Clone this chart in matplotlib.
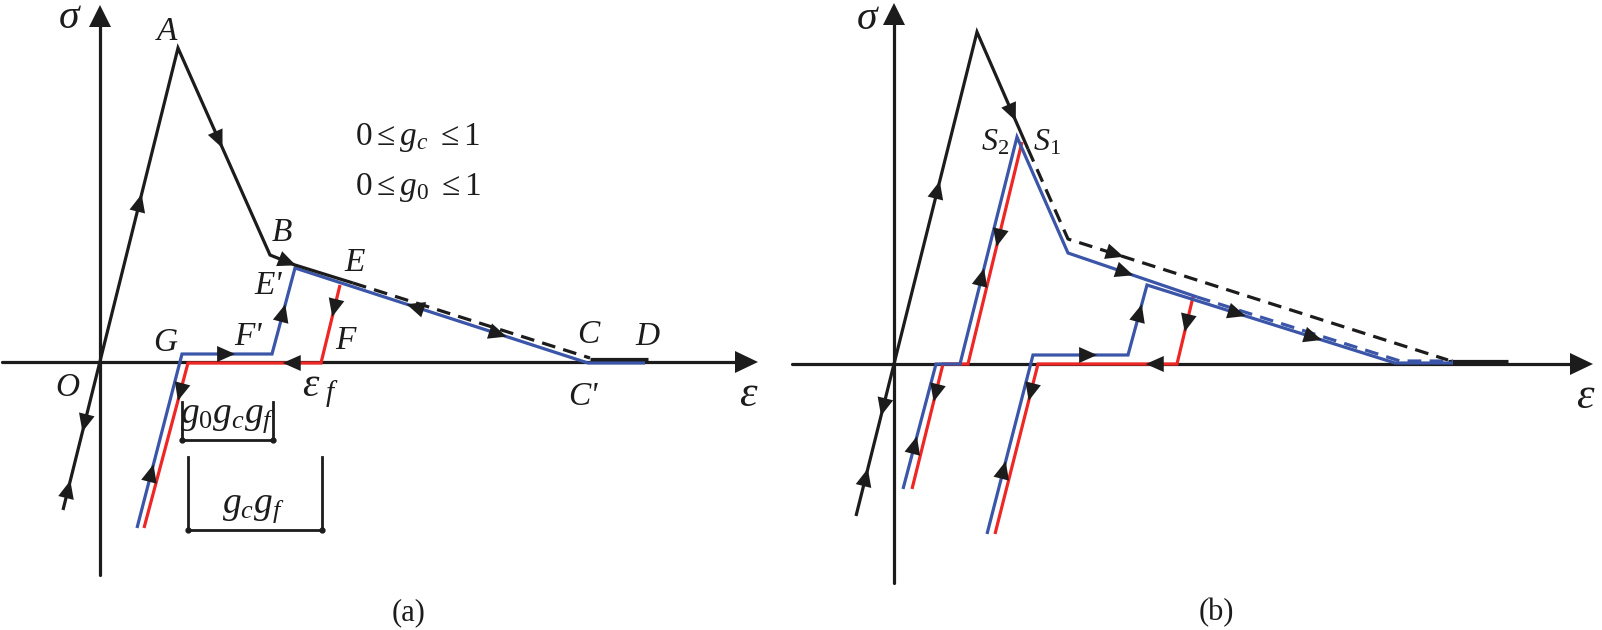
import numpy as np
import matplotlib
matplotlib.use("Agg")
import matplotlib.pyplot as plt
from matplotlib.patches import Polygon

plt.rcParams['font.family'] = ['Liberation Serif', 'DejaVu Serif']
plt.rcParams['mathtext.fontset'] = 'custom'
plt.rcParams['mathtext.rm'] = 'Liberation Serif'
plt.rcParams['mathtext.it'] = 'Liberation Serif:italic'
plt.rcParams['mathtext.bf'] = 'Liberation Serif:bold'

# ---------------- data (schematic polylines, pixel space) ----------------
# panel (a)
a_black_solid = [(63, 510), (178, 48), (270, 255), (295, 265), (353, 283)]
a_black_dash = [(353, 283), (590, 358)]
a_black_CD = [(590, 359), (648, 359)]
a_blue = [(137, 528), (182, 354), (272, 354), (295, 268), (588, 363), (645, 363)]
a_red = [(144, 528), (188, 363), (321, 363), (340, 285)]
# panel (b)
b_black_solid = [(856, 516), (977, 32), (1028, 149)]
b_black_dash = [(1028, 149), (1068, 239), (1448, 360)]
b_black_end = [(1448, 361), (1508, 361)]
b_red1 = [(912, 489), (943, 364), (968, 364), (1022, 142)]
b_blue1 = [(903, 489), (936, 364), (960, 364), (1017, 137), (1068, 253), (1197, 297)]
b_blue_dash = [(1197, 297), (1400, 361), (1453, 361)]
b_red2 = [(995, 534), (1038, 364), (1177, 364), (1193, 297)]
b_blue2 = [(987, 534), (1033, 355), (1128, 355), (1147, 285), (1395, 363), (1453, 363)]

# arrows: (polyline, segment, fraction, reversed)
arrows_a = [
    (a_black_solid, 0, 0.665, False), (a_black_solid, 1, 0.444, False),
    (a_black_solid, 2, 0.70, False), (a_black_solid, 0, 0.188, True),
    (a_black_solid, 0, 0.045, False),
    (a_red, 0, 0.824, True), (a_blue, 0, 0.316, False), (a_blue, 1, 0.49, False),
    (a_red, 1, 0.78, True), (a_blue, 2, 0.477, False), (a_red, 2, 0.705, True),
    (a_blue, 3, 0.41, True), (a_blue, 3, 0.693, False),
]
arrows_b = [
    (b_black_solid, 0, 0.674, False), (b_black_solid, 1, 0.69, False),
    (b_black_solid, 0, 0.225, True), (b_black_solid, 0, 0.08, False),
    (b_red1, 2, 0.568, True), (b_red1, 0, 0.768, True),
    (b_blue1, 2, 0.383, False), (b_blue1, 0, 0.352, False), (b_blue1, 4, 0.44, False),
    (b_black_dash, 1, 0.124, False),
    (b_red2, 0, 0.835, True), (b_red2, 1, 0.84, True), (b_red2, 2, 0.61, True),
    (b_blue2, 0, 0.358, False), (b_blue2, 1, 0.58, False), (b_blue2, 2, 0.6, False),
    (b_blue2, 3, 0.363, False), (b_blue2, 3, 0.67, False),
]

# axes: (x0, x1, y) horizontal and (x, y0, y1) vertical
a_haxis = (2, 758, 362)
a_vaxis = (100, 575, 5)
b_haxis = (792, 1593, 364)
b_vaxis = (894, 583, 3)

# labels: (text, x, y, size)
labels = [
    ('σ', 69, 18, 30), ('A', 167, 32, 24), ('B', 282, 233, 24),
    ('E', 355, 263, 24), ("E'", 268, 286, 24), ("F'", 248, 337, 24),
    ('F', 345, 341, 24), ('G', 165, 343, 24), ('O', 67, 388, 24),
    (r'$\varepsilon_{\ f}$', 320, 391, 30), ('C', 588, 335, 24), ('D', 647, 337, 24),
    ("C'", 583, 397, 24), ('ε', 748, 395, 32),
    (r'$0\leq g_c\ \leq 1$', 418, 138, 24), (r'$0\leq g_0\ \leq 1$', 418, 188, 24),
    (r'$g_0g_cg_f$', 228, 418, 27), (r'$g_cg_f$', 253, 508, 27),
    ('σ', 867, 19, 30), (r'$S_2$', 995, 143, 23), (r'$S_1$', 1047, 143, 23),
    ('ε', 1585, 397, 32),
]
captions = [('(a)', 409, 613), ('(b)', 1216, 613)]

# brackets: (x_left, x_right, y_top, y_bottom)
brackets = [(182, 273, 402, 440), (188, 322, 457, 530)]

BLACK = '#1c1c1c'
BLUE = '#3b55a8'
RED = '#ee2624'
LW = 2.3

fig = plt.figure(figsize=(16.02, 6.30), dpi=100)
ax = fig.add_axes([0, 0, 1, 1])
ax.set_xlim(0, 1602)
ax.set_ylim(630, 0)
ax.axis('off')


def draw(pts, color, dashed=False, z=3, lw=LW):
    xs, ys = zip(*pts)
    ln, = ax.plot(xs, ys, color=color, lw=lw, zorder=z,
                  solid_joinstyle='miter', solid_capstyle='butt',
                  dash_capstyle='butt')
    if dashed:
        ln.set_dashes([4.3, 2.6])


def arrow_on(pts, seg, t, rev, L=18, W=8):
    p0 = np.array(pts[seg], float)
    p1 = np.array(pts[seg + 1], float)
    c = p0 + t * (p1 - p0)
    d = (p1 - p0) / np.linalg.norm(p1 - p0)
    if rev:
        d = -d
    n = np.array([-d[1], d[0]])
    tip = c + d * L / 2
    b1 = c - d * L / 2 + n * W
    b2 = c - d * L / 2 - n * W
    ax.add_patch(Polygon([tip, b1, b2], closed=True, facecolor=BLACK,
                         edgecolor='none', zorder=6))


def axis_h(x0, x1, y):
    ax.plot([x0, x1 - 20], [y, y], color=BLACK, lw=LW, zorder=1,
            solid_capstyle='round')
    ax.add_patch(Polygon([(x1, y), (x1 - 23, y - 11), (x1 - 23, y + 11)],
                         closed=True, facecolor=BLACK, edgecolor='none', zorder=1))


def axis_v(x, y0, y1):
    ax.plot([x, x], [y0, y1 + 20], color=BLACK, lw=LW, zorder=1,
            solid_capstyle='round')
    ax.add_patch(Polygon([(x, y1), (x - 11, y1 + 22), (x + 11, y1 + 22)],
                         closed=True, facecolor=BLACK, edgecolor='none', zorder=1))


for h, v in [(a_haxis, a_vaxis), (b_haxis, b_vaxis)]:
    axis_h(*h)
    axis_v(*v)

# panel (a)
draw(a_red, RED, z=2)
draw(a_blue, BLUE, z=3)
draw(a_black_solid, BLACK, z=4)
draw(a_black_dash, BLACK, dashed=True, z=4)
draw(a_black_CD, BLACK, z=2)

# panel (b)
draw(b_red1, RED, z=2)
draw(b_red2, RED, z=2)
draw(b_blue1, BLUE, z=3)
draw(b_blue2, BLUE, z=3)
draw(b_blue_dash, BLUE, dashed=True, z=3)
draw(b_black_solid, BLACK, z=4)
draw(b_black_dash, BLACK, dashed=True, z=4)
draw(b_black_end, BLACK, z=2)

for a in arrows_a + arrows_b:
    arrow_on(*a)

for (xl, xr, yt, yb) in brackets:
    ax.plot([xl, xl], [yt, yb], color=BLACK, lw=2.0, zorder=5)
    ax.plot([xr, xr], [yt, yb], color=BLACK, lw=2.0, zorder=5)
    ax.plot([xl, xr], [yb, yb], color=BLACK, lw=2.0, zorder=5)
    ax.plot([xl, xr], [yb, yb], 'o', color=BLACK, ms=3.5, zorder=5)

for txt, x, y, s in labels:
    ax.text(x, y, txt, fontsize=s, ha='center', va='center', color=BLACK,
            zorder=7, style='italic', family='Liberation Serif')

for txt, x, y in captions:
    ax.text(x, y, txt, fontsize=22, ha='center', va='center', color=BLACK,
            family='Liberation Serif')

fig.savefig('out.png', dpi=100)
